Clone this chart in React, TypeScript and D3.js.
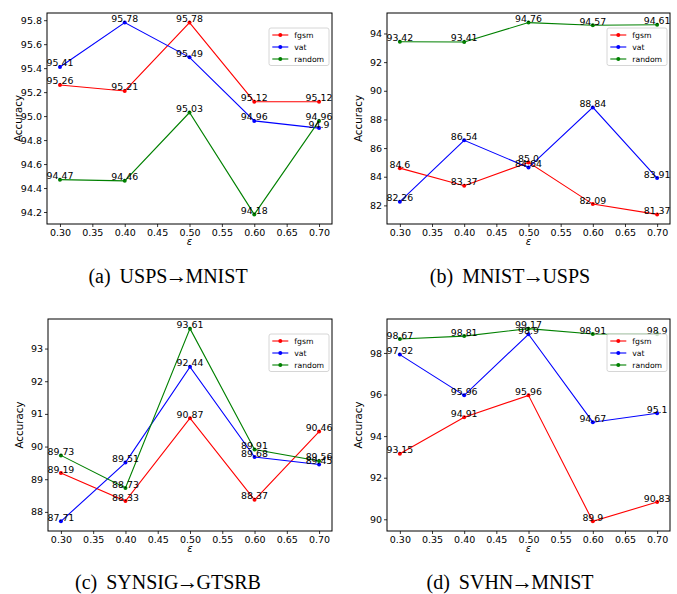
import React, { useEffect, useRef } from "react";
import * as d3 from "d3";

// epsilon values on the x axis
const epsilons = [0.3, 0.4, 0.5, 0.6, 0.7];
const xTickValues = [0.3, 0.35, 0.4, 0.45, 0.5, 0.55, 0.6, 0.65, 0.7];

const seriesNames = ["fgsm", "vat", "random"];
const seriesColors = ["#ff0000", "#0000ff", "#008000"];

// (a) USPS -> MNIST
const uspsMnistFgsm = [95.26, 95.21, 95.78, 95.12, 95.12];
const uspsMnistVat = [95.41, 95.78, 95.49, 94.96, 94.9];
const uspsMnistRandom = [94.47, 94.46, 95.03, 94.18, 94.96];
const uspsMnistTicks = [94.2, 94.4, 94.6, 94.8, 95.0, 95.2, 95.4, 95.6, 95.8];

// (b) MNIST -> USPS
const mnistUspsFgsm = [84.6, 83.37, 85.0, 82.09, 81.37];
const mnistUspsVat = [82.26, 86.54, 84.64, 88.84, 83.91];
const mnistUspsRandom = [93.42, 93.41, 94.76, 94.57, 94.61];
const mnistUspsTicks = [82, 84, 86, 88, 90, 92, 94];

// (c) SYNSIG -> GTSRB
const synsigGtsrbFgsm = [89.19, 88.33, 90.87, 88.37, 90.46];
const synsigGtsrbVat = [87.71, 89.51, 92.44, 89.68, 89.45];
const synsigGtsrbRandom = [89.73, 88.73, 93.61, 89.91, 89.56];
const synsigGtsrbTicks = [88, 89, 90, 91, 92, 93];

// (d) SVHN -> MNIST
const svhnMnistFgsm = [93.15, 94.91, 95.96, 89.9, 90.83];
const svhnMnistVat = [97.92, 95.96, 98.9, 94.67, 95.1];
const svhnMnistRandom = [98.67, 98.81, 99.17, 98.91, 98.9];
const svhnMnistTicks = [90, 92, 94, 96, 98];

// caption parts: tag, source, target
const captionTags = ["(a)", "(b)", "(c)", "(d)"];
const captionSources = ["USPS", "MNIST", "SYNSIG", "SVHN"];
const captionTargets = ["MNIST", "USPS", "GTSRB", "MNIST"];

// python-ish str() of a rounded float
const pyStr = (v: number) => (Number.isInteger(v) ? v.toFixed(1) : String(v));

const W = 677;
const H = 594;
const SANS = "'DejaVu Sans', sans-serif";
const SERIF = "'Liberation Serif', serif";

export default function App() {
  const svgRef = useRef<SVGSVGElement | null>(null);

  useEffect(() => {
    if (!svgRef.current) return;
    const svg = d3.select(svgRef.current);
    svg.selectAll("*").remove();

    const panels = [
      { box: [47, 13, 332, 224], series: [uspsMnistFgsm, uspsMnistVat, uspsMnistRandom], ticks: uspsMnistTicks, fmt: ".1f", capX: 168, capY: 283 },
      { box: [387, 13, 670, 224], series: [mnistUspsFgsm, mnistUspsVat, mnistUspsRandom], ticks: mnistUspsTicks, fmt: "d", capX: 510, capY: 283 },
      { box: [48, 319, 332, 531], series: [synsigGtsrbFgsm, synsigGtsrbVat, synsigGtsrbRandom], ticks: synsigGtsrbTicks, fmt: "d", capX: 168, capY: 589 },
      { box: [387, 319, 670, 531], series: [svhnMnistFgsm, svhnMnistVat, svhnMnistRandom], ticks: svhnMnistTicks, fmt: "d", capX: 510, capY: 589 },
    ];

    panels.forEach((p, pi) => {
      const [x0, y0, x1, y1] = p.box;
      const all = p.series.flat();
      const lo = d3.min(all)!, hi = d3.max(all)!;
      const pad = (hi - lo) * 0.05;
      const x = d3.scaleLinear().domain([0.28, 0.72]).range([x0, x1]);
      const y = d3.scaleLinear().domain([lo - pad, hi + pad]).range([y1, y0]);

      const g = svg.append("g");

      // ticks
      const xAxis = d3.axisBottom(x).tickValues(xTickValues).tickFormat(d3.format(".2f")).tickSize(3).tickPadding(2);
      const gx = g.append("g").attr("transform", `translate(0,${y1})`).call(xAxis);
      const yAxis = d3.axisLeft(y).tickValues(p.ticks).tickFormat(d3.format(p.fmt)).tickSize(3).tickPadding(2);
      const gy = g.append("g").attr("transform", `translate(${x0},0)`).call(yAxis);
      [gx, gy].forEach(a => {
        a.select(".domain").remove();
        a.selectAll("text").attr("font-family", SANS).attr("font-size", 9.5).attr("fill", "#000");
        a.selectAll("line").attr("stroke", "#000").attr("stroke-width", 0.8);
      });

      // lines + markers
      p.series.forEach((vals, si) => {
        const line = d3.line<number>().x((_, i) => x(epsilons[i])).y(v => y(v));
        g.append("path").datum(vals).attr("d", line).attr("fill", "none")
          .attr("stroke", seriesColors[si]).attr("stroke-width", 1.1);
        g.selectAll(null).data(vals).join("circle")
          .attr("cx", (_, i) => x(epsilons[i])).attr("cy", v => y(v)).attr("r", 2)
          .attr("fill", seriesColors[si]);
      });

      // value labels
      p.series.forEach(vals => {
        g.selectAll(null).data(vals).join("text")
          .attr("x", (_, i) => x(epsilons[i])).attr("y", v => y(v) - 0.5)
          .attr("text-anchor", "middle").attr("font-family", SANS).attr("font-size", 9.4)
          .attr("fill", "#000").text(v => pyStr(v));
      });

      // frame
      g.append("rect").attr("x", x0).attr("y", y0).attr("width", x1 - x0).attr("height", y1 - y0)
        .attr("fill", "none").attr("stroke", "#000").attr("stroke-width", 1);

      // axis titles
      g.append("text").attr("x", (x0 + x1) / 2).attr("y", y1 + 21).attr("text-anchor", "middle")
        .attr("font-family", SANS).attr("font-style", "italic").attr("font-size", 10).text("\u03b5");
      g.append("text").attr("transform", `translate(${x0 - 25},${(y0 + y1) / 2}) rotate(-90)`)
        .attr("text-anchor", "middle").attr("font-family", SANS).attr("font-size", 10.3).text("Accuracy");

      // legend
      const lg = g.append("g").attr("transform", `translate(${x1 - 63},${y0 + 15})`);
      lg.append("rect").attr("width", 60).attr("height", 37.5).attr("rx", 2)
        .attr("fill", "#fff").attr("fill-opacity", 0.8).attr("stroke", "#cccccc").attr("stroke-width", 0.8);
      seriesNames.forEach((name, si) => {
        const ly = 7 + si * 12;
        lg.append("line").attr("x1", 3.3).attr("x2", 19.3).attr("y1", ly).attr("y2", ly)
          .attr("stroke", seriesColors[si]).attr("stroke-width", 1.1);
        lg.append("circle").attr("cx", 11.3).attr("cy", ly).attr("r", 2).attr("fill", seriesColors[si]);
        lg.append("text").attr("x", 25.3).attr("y", ly).attr("dy", "0.35em")
          .attr("font-family", SANS).attr("font-size", 7.7).text(name);
      });

      // caption
      const cap = svg.append("text").attr("x", p.capX).attr("y", p.capY).attr("text-anchor", "middle")
        .attr("font-family", SERIF).attr("font-size", 20);
      cap.append("tspan").text(captionTags[pi]);
      cap.append("tspan").attr("dx", 9).text(captionSources[pi]);
      cap.append("tspan").attr("font-size", 22).attr("dx", -2).text("\u2192");
      cap.append("tspan").attr("dx", -2).text(captionTargets[pi]);
    });
  }, []);

  return (
    <svg ref={svgRef} width={W} height={H}
      style={{ position: "absolute", left: 0, top: 0, background: "#fff" }} />
  );
}
